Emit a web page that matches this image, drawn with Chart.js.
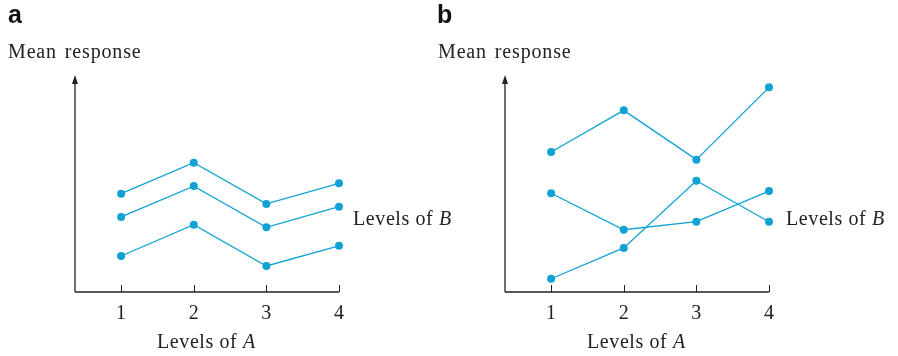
<!DOCTYPE html>
<html>
<head>
<meta charset="utf-8">
<script src="https://cdn.jsdelivr.net/npm/chart.js@4.4.0/dist/chart.umd.min.js"></script>
<style>
    html, body { margin: 0; padding: 0; background: #fff; }
    #wrap { position: relative; width: 898px; height: 356px; overflow: hidden; }
    canvas { position: absolute; top: 0; }
    .lbl { position: absolute; font-family: 'Liberation Serif', 'Times New Roman', serif; font-size: 20px; line-height: 20px; color: #222; white-space: nowrap; letter-spacing: 0.6px; }
    .wide { word-spacing: 2px; letter-spacing: 0.85px; }
    .panel { position: absolute; font-family: 'Liberation Sans', Arial, sans-serif; font-weight: bold; font-size: 25px; line-height: 25px; color: #111; }
    i { font-style: italic; }
</style>
</head>
<body>
<div id="wrap">
    <canvas id="chart-a" width="449" height="356" style="left:0px;width:449px;height:356px"></canvas>
    <canvas id="chart-b" width="449" height="356" style="left:430px;width:449px;height:356px"></canvas>

    <div class="panel" style="left:8px;top:2px">a</div>
    <div class="panel" style="left:437px;top:2px">b</div>

    <div class="lbl wide" style="left:8px;top:41px">Mean response</div>
    <div class="lbl wide" style="left:438px;top:41px">Mean response</div>

    <div class="lbl" style="left:157px;top:331px">Levels of <i>A</i></div>
    <div class="lbl" style="left:587px;top:331px">Levels of <i>A</i></div>

    <div class="lbl" style="left:353px;top:208px">Levels of <i>B</i></div>
    <div class="lbl" style="left:786px;top:208px">Levels of <i>B</i></div>
</div>

<script>
const levelsA = [1, 2, 3, 4];

// panel a: no interaction, parallel profiles
const panelA = [
    [4.53, 5.96, 4.06, 5.01],
    [3.46, 4.88, 2.98, 3.93],
    [1.66, 3.10, 1.20, 2.13],
];

// panel b: interaction, profiles cross
const panelB = [
    [6.45, 8.37, 6.10, 9.43],
    [4.55, 2.87, 3.24, 4.65],
    [0.61, 2.03, 5.13, 3.24],
];

const lineColor = '#10a2d4';
const axisColor = '#222';

// y axis with arrow and small upward ticks on the x axis
const axesPlugin = {
    id: 'axes',
    afterDraw(chart) {
        const { ctx, chartArea, scales } = chart;
        const x0 = chartArea.left;
        const y0 = chartArea.bottom;
        ctx.save();
        ctx.strokeStyle = axisColor;
        ctx.fillStyle = axisColor;
        ctx.lineWidth = 1.3;

        ctx.beginPath();
        ctx.moveTo(x0, y0);
        ctx.lineTo(x0, chartArea.top + 6);
        ctx.moveTo(x0, y0);
        ctx.lineTo(scales.x.getPixelForValue(4), y0);
        ctx.stroke();

        ctx.beginPath();
        ctx.moveTo(x0, chartArea.top);
        ctx.lineTo(x0 - 3, chartArea.top + 9);
        ctx.lineTo(x0 + 3, chartArea.top + 9);
        ctx.closePath();
        ctx.fill();

        ctx.lineWidth = 1;
        levelsA.forEach(v => {
            const px = Math.round(scales.x.getPixelForValue(v)) + 0.5;
            ctx.beginPath();
            ctx.moveTo(px, y0);
            ctx.lineTo(px, y0 - 7);
            ctx.stroke();
        });
        ctx.restore();
    },
};

const makeChart = (id, series) => {
    const ctx = document.getElementById(id).getContext('2d');
    return new Chart(ctx, {
        type: 'line',
        data: {
            datasets: series.map(vals => ({
                data: vals.map((v, i) => ({ x: levelsA[i], y: v })),
                borderColor: lineColor,
                backgroundColor: lineColor,
                borderWidth: 1.3,
                pointRadius: 4,
                pointBorderWidth: 0,
                fill: false,
                tension: 0,
                clip: false,
            })),
        },
        options: {
            responsive: false,
            animation: false,
            events: [],
            layout: { padding: { left: 75, top: 75, right: 110, bottom: 0 } },
            plugins: { legend: { display: false }, tooltip: { enabled: false } },
            scales: {
                x: {
                    type: 'linear',
                    min: 0.365,
                    max: 4,
                    grid: { display: false },
                    border: { display: false },
                    afterBuildTicks: s => { s.ticks = levelsA.map(v => ({ value: v })); },
                    afterFit: s => { s.height = 64; },
                    ticks: {
                        color: axisColor,
                        padding: 2,
                        maxRotation: 0,
                        font: { family: "'Liberation Serif', 'Times New Roman', serif", size: 20 },
                    },
                },
                y: {
                    display: false,
                    min: 0,
                    max: 10,
                },
            },
        },
        plugins: [axesPlugin],
    });
};

makeChart('chart-a', panelA);
makeChart('chart-b', panelB);
</script>
</body>
</html>
